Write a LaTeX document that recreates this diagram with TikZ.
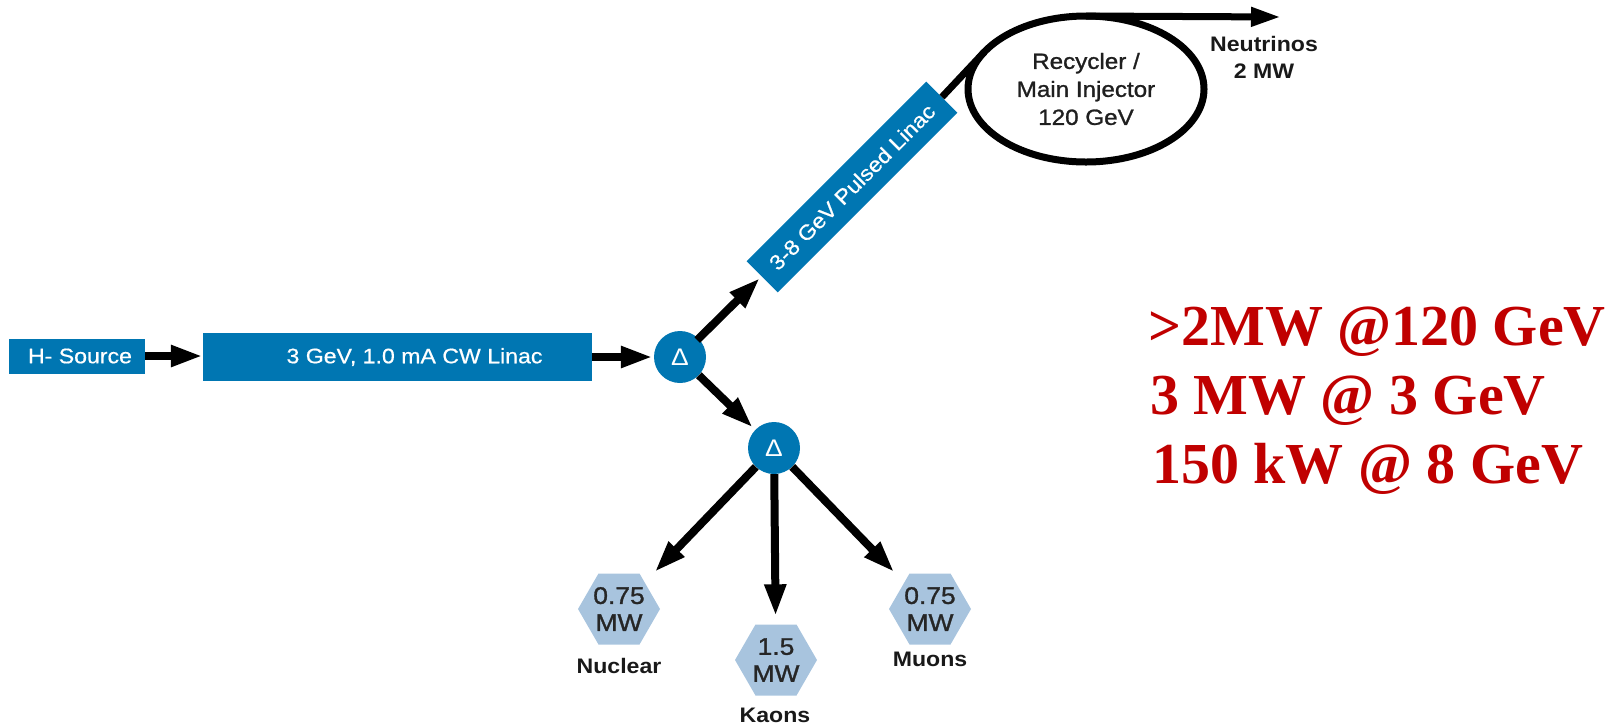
\documentclass[tikz,border=0pt]{standalone}
\usepackage{fontspec}
\setmainfont{Liberation Sans}[FakeStretch=1.1]
\newfontfamily\medfont{Liberation Sans}[FakeStretch=1.1,FakeBold=1.2]
\newfontfamily\boxfont{Liberation Sans}[FakeStretch=1.1,FakeBold=0.6]
\newfontfamily\redfont{Liberation Serif}
\usetikzlibrary{arrows.meta,shapes.geometric}
\definecolor{fnalblue}{RGB}{0,118,178}
\definecolor{hexblue}{RGB}{168,196,222}
\definecolor{redtxt}{RGB}{192,0,0}
\begin{document}
\begin{tikzpicture}[x=1pt,y=-1pt,
 box/.style={fill=fnalblue,text=white,inner sep=0pt,font=\boxfont\fontsize{21}{25}\selectfont},
 dnode/.style={circle,fill=fnalblue,text=white,minimum size=52pt,inner sep=0pt,font=\fontsize{24}{26}\selectfont},
 hexnode/.style={regular polygon,regular polygon sides=6,fill=hexblue,minimum size=82pt,inner sep=0pt},
 hextext/.style={align=center,text=black!85,font=\medfont\fontsize{24}{27}\selectfont},
 lbl/.style={font=\bfseries\fontsize{21}{27}\selectfont,text=black!90},
 beam/.style={line width=8pt,-{Triangle[length=32pt,width=20pt]}},
 thinbeam/.style={line width=7pt,-{Triangle[length=30pt,width=18pt]}},
 redline/.style={anchor=base west,text=redtxt,inner sep=0pt,font=\redfont\bfseries\fontsize{58}{69}\selectfont},
]
\useasboundingbox (0,0) rectangle (1616,724);

\node[box,minimum width=136pt,minimum height=35pt] (src) at (77,356) {\hspace*{6pt}H- Source};
\node[box,minimum width=389pt,minimum height=48pt] (linac) at (397.5,357) {\hspace*{34pt}3 GeV, 1.0 mA CW Linac};
\node[dnode] (d1) at (680,357) {Δ};
\node[dnode] (d2) at (774,448) {Δ};
\node[box,rotate=45,minimum width=254pt,minimum height=44pt] (pl) at (852,187) {3-8 GeV Pulsed Linac};

\node[ellipse,draw,line width=7pt,minimum width=236pt,minimum height=146pt,inner sep=0pt,outer sep=0pt,
      align=center,text=black!88,font=\medfont\fontsize{22}{28}\selectfont] (ring) at (1086,89) {Recycler /\\Main Injector\\120 GeV};
\coordinate (nuend) at (1281,17);
\node[lbl,align=center] (nu) at (1264,57) {Neutrinos\\2 MW};

\node[hexnode,label={[hextext]center:{0.75\\MW}}] (nuc) at (619,609) {};
\node[hexnode,label={[hextext]center:{1.5\\MW}}] (kao) at (776,660) {};
\node[hexnode,label={[hextext]center:{0.75\\MW}}] (muo) at (930,609) {};
\node[lbl] (nucl) at (619,666) {Nuclear};
\node[lbl] (kaol) at (775,715) {Kaons};
\node[lbl] (muol) at (930,659) {Muons};

\draw[beam] (src.east) -- (linac.west |- src.east);
\draw[beam,shorten >=1pt] (linac.east) -- (d1);
\draw[beam,shorten <=-2pt,shorten >=2pt] (d1) -- (pl);
\draw[beam,shorten >=3pt] (d1) -- (d2);
\draw[line width=7pt] (pl.east) -- (ring.160);
\draw[thinbeam] (ring.north) -- (nuend);
\draw[beam,shorten >=14pt] (d2) -- (nuc);
\draw[beam,shorten >=8pt] (d2) -- (kao);
\draw[beam,shorten >=14pt] (d2) -- (muo);

\node[redline] (r1) at (1148,345) {>2MW @120 GeV};
\node[redline] (r2) at (1150,414) {3 MW @ 3 GeV};
\node[redline] (r3) at (1152,483) {150 kW @ 8 GeV};
\end{tikzpicture}
\end{document}
